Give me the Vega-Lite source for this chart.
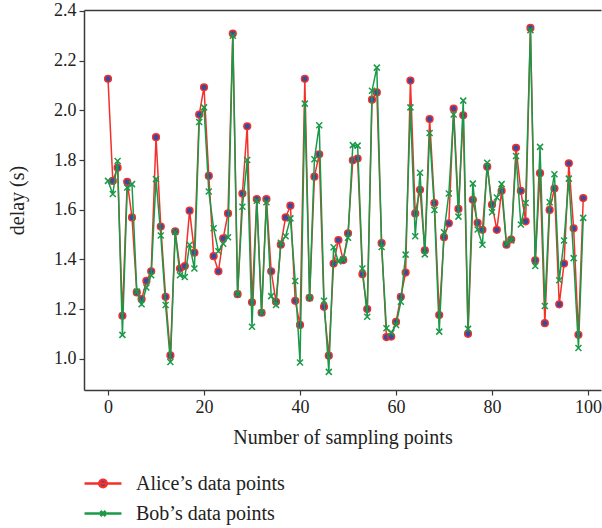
{
  "$schema": "https://vega.github.io/schema/vega-lite/v6.json",
  "width": 517,
  "height": 380,
  "autosize": {"type": "none"},
  "padding": {"left": 84, "top": 10, "right": 1, "bottom": 138},
  "background": "white",
  "config": {
    "view": {"stroke": null},
    "axis": {
      "domainColor": "#3a3a3a", "domainWidth": 1.5, "tickColor": "#3a3a3a", "tickSize": 5, "tickWidth": 1.2,
      "labelFont": "Liberation Serif", "labelFontSize": 18, "labelColor": "#222",
      "titleFont": "Liberation Serif", "titleFontSize": 20, "titleFontWeight": "normal", "titleColor": "#222",
      "grid": false
    }
  },
  "data": {"values": [
    {"n":0,"alice":2.127,"bob":1.716},{"n":1,"alice":1.716,"bob":1.663},{"n":2,"alice":1.769,"bob":1.796},{"n":3,"alice":1.173,"bob":1.096},{"n":4,"alice":1.712,"bob":1.689},
    {"n":5,"alice":1.569,"bob":1.703},{"n":6,"alice":1.267,"bob":1.27},{"n":7,"alice":1.24,"bob":1.219},{"n":8,"alice":1.313,"bob":1.287},{"n":9,"alice":1.352,"bob":1.336},
    {"n":10,"alice":1.892,"bob":1.723},{"n":11,"alice":1.532,"bob":1.496},{"n":12,"alice":1.249,"bob":1.216},{"n":13,"alice":1.013,"bob":0.987},{"n":14,"alice":1.513,"bob":1.51},
    {"n":15,"alice":1.363,"bob":1.336},{"n":16,"alice":1.373,"bob":1.329},{"n":17,"alice":1.596,"bob":1.459},{"n":18,"alice":1.427,"bob":1.363},{"n":19,"alice":1.983,"bob":1.953},
    {"n":20,"alice":2.093,"bob":2.012},{"n":21,"alice":1.736,"bob":1.673},{"n":22,"alice":1.413,"bob":1.525},{"n":23,"alice":1.352,"bob":1.433},{"n":24,"alice":1.485,"bob":1.463},
    {"n":25,"alice":1.585,"bob":1.489},{"n":26,"alice":2.309,"bob":2.3},{"n":27,"alice":1.26,"bob":1.26},{"n":28,"alice":1.665,"bob":1.612},{"n":29,"alice":1.936,"bob":1.8},
    {"n":30,"alice":1.227,"bob":1.129},{"n":31,"alice":1.643,"bob":1.636},{"n":32,"alice":1.185,"bob":1.185},{"n":33,"alice":1.643,"bob":1.63},{"n":34,"alice":1.352,"bob":1.252},
    {"n":35,"alice":1.229,"bob":1.216},{"n":36,"alice":1.459,"bob":1.467},{"n":37,"alice":1.569,"bob":1.493},{"n":38,"alice":1.616,"bob":1.565},{"n":39,"alice":1.233,"bob":1.313},
    {"n":40,"alice":1.136,"bob":0.985},{"n":41,"alice":2.127,"bob":2.027},{"n":42,"alice":1.245,"bob":1.245},{"n":43,"alice":1.733,"bob":1.803},{"n":44,"alice":1.823,"bob":1.94},
    {"n":45,"alice":1.209,"bob":1.233},{"n":46,"alice":1.012,"bob":0.947},{"n":47,"alice":1.383,"bob":1.449},{"n":48,"alice":1.478,"bob":1.392},{"n":49,"alice":1.397,"bob":1.4},
    {"n":50,"alice":1.505,"bob":1.487},{"n":51,"alice":1.799,"bob":1.86},{"n":52,"alice":1.806,"bob":1.858},{"n":53,"alice":1.34,"bob":1.363},{"n":54,"alice":1.2,"bob":1.169},
    {"n":55,"alice":2.043,"bob":2.079},{"n":56,"alice":2.072,"bob":2.172},{"n":57,"alice":1.465,"bob":1.45},{"n":58,"alice":1.087,"bob":1.123},{"n":59,"alice":1.089,"bob":1.105},
    {"n":60,"alice":1.148,"bob":1.136},{"n":61,"alice":1.249,"bob":1.229},{"n":62,"alice":1.347,"bob":1.419},{"n":63,"alice":2.12,"bob":2.012},{"n":64,"alice":1.585,"bob":1.493},
    {"n":65,"alice":1.68,"bob":1.749},{"n":66,"alice":1.436,"bob":1.42},{"n":67,"alice":1.965,"bob":1.909},{"n":68,"alice":1.627,"bob":1.599},{"n":69,"alice":1.176,"bob":1.109},
    {"n":70,"alice":1.489,"bob":1.509},{"n":71,"alice":1.545,"bob":1.665},{"n":72,"alice":2.007,"bob":1.983},{"n":73,"alice":1.603,"bob":1.572},{"n":74,"alice":1.98,"bob":2.039},
    {"n":75,"alice":1.1,"bob":1.12},{"n":76,"alice":1.64,"bob":1.705},{"n":77,"alice":1.547,"bob":1.52},{"n":78,"alice":1.519,"bob":1.459},{"n":79,"alice":1.773,"bob":1.789},
    {"n":80,"alice":1.62,"bob":1.59},{"n":81,"alice":1.519,"bob":1.649},{"n":82,"alice":1.676,"bob":1.703},{"n":83,"alice":1.459,"bob":1.463},{"n":84,"alice":1.48,"bob":1.476},
    {"n":85,"alice":1.849,"bob":1.816},{"n":86,"alice":1.676,"bob":1.54},{"n":87,"alice":1.553,"bob":1.627},{"n":88,"alice":2.332,"bob":2.323},{"n":89,"alice":1.396,"bob":1.373},
    {"n":90,"alice":1.747,"bob":1.853},{"n":91,"alice":1.143,"bob":1.212},{"n":92,"alice":1.599,"bob":1.63},{"n":93,"alice":1.685,"bob":1.743},{"n":94,"alice":1.219,"bob":1.316},
    {"n":95,"alice":1.383,"bob":1.476},{"n":96,"alice":1.787,"bob":1.725},{"n":97,"alice":1.525,"bob":1.405},{"n":98,"alice":1.096,"bob":1.043},{"n":99,"alice":1.647,"bob":1.567}
  ]},
  "transform": [{"fold": ["alice", "bob"], "as": ["series", "delay"]}],
  "resolve": {"axis": {"x": "independent"}},
  "layer": [
    {
      "transform": [{"filter": "datum.series === 'alice'"}],
      "mark": {"type": "line", "strokeWidth": 1.5},
      "encoding": {
        "x": {"field": "n", "type": "quantitative",
              "scale": {"domain": [-5, 102.7], "nice": false, "zero": false},
              "axis": {"values": [0, 20, 40, 60, 80, 100], "title": "Number of sampling points", "labelPadding": 3, "titlePadding": 11}},
        "y": {"field": "delay", "type": "quantitative",
              "scale": {"domain": [0.874, 2.404], "nice": false, "zero": false},
              "axis": {"values": [1.0, 1.2, 1.4, 1.6, 1.8, 2.0, 2.2, 2.4], "format": ".1f", "title": "delay (s)", "labelPadding": 3, "titlePadding": 26}},
        "color": {"field": "series", "type": "nominal",
          "scale": {"domain": ["alice", "bob"], "range": ["#f3302a", "#1a9a48"]},
          "legend": {
            "title": null, "orient": "none", "legendX": 2.5, "legendY": 457, "direction": "vertical",
            "symbolSize": 900, "symbolStrokeWidth": 2.5, "labelOffset": 16.5, "rowPadding": 3, "padding": 0,
            "labelFont": "Liberation Serif", "labelFontSize": 20, "labelColor": "#222", "labelLimit": 400,
            "labelExpr": "datum.value === 'alice' ? 'Alice’s data points' : 'Bob’s data points'",
            "encode": {"symbols": {"update": {
              "shape": {"signal": "datum.value === 'alice' ? 'M-1.23,0H1.23M-0.25,0A0.25,0.25 0 1,1 0.25,0A0.25,0.25 0 1,1 -0.25,0Z' : 'M-1.23,0H1.23M-0.17,-0.17L0.17,0.17M-0.17,0.17L0.17,-0.17'"},
              "fill": {"signal": "datum.value === 'alice' ? '#3a4aa0' : 'transparent'"},
              "stroke": {"signal": "datum.value === 'alice' ? '#f3302a' : '#1a9a48'"},
              "strokeWidth": {"value": 2.5},
              "opacity": {"value": 1}
            }}}
          }
        }
      }
    },
    {
      "transform": [{"filter": "datum.series === 'alice'"}],
      "mark": {"type": "point", "shape": "circle", "filled": true, "fill": "#3a4aa0", "stroke": "#f3302a", "strokeWidth": 1.5, "size": 45, "opacity": 1},
      "encoding": {
        "x": {"field": "n", "type": "quantitative", "axis": null},
        "y": {"field": "delay", "type": "quantitative"}
      }
    },
    {
      "transform": [{"filter": "datum.series === 'bob'"}],
      "mark": {"type": "line", "strokeWidth": 1.5},
      "encoding": {
        "x": {"field": "n", "type": "quantitative", "axis": null},
        "y": {"field": "delay", "type": "quantitative"},
        "color": {"field": "series", "type": "nominal"}
      }
    },
    {
      "transform": [{"filter": "datum.series === 'bob'"}],
      "mark": {"type": "point", "shape": "M-1,-1L1,1M-1,1L1,-1", "filled": false, "stroke": "#1a9a48", "strokeWidth": 1.5, "size": 36, "opacity": 1},
      "encoding": {
        "x": {"field": "n", "type": "quantitative", "axis": {"orient": "top", "labels": false, "ticks": false, "title": null}},
        "y": {"field": "delay", "type": "quantitative"}
      }
    }
  ]
}
